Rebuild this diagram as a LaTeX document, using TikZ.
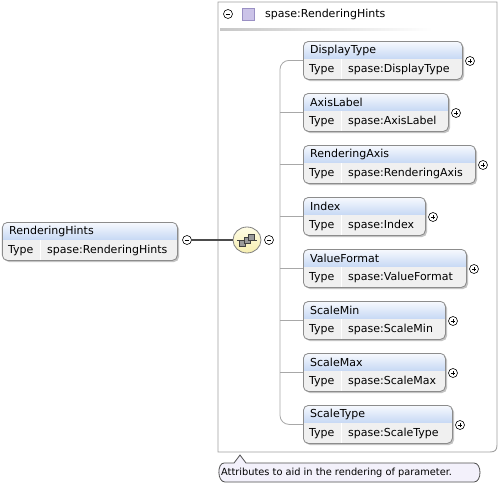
\documentclass[tikz,border=0pt]{standalone}
\usepackage{fontspec}
\setmainfont{DejaVu Sans}
\usetikzlibrary{shapes.geometric}
\definecolor{hdtop}{HTML}{F8FAFE}
\definecolor{hdbot}{HTML}{C6D8F4}
\definecolor{rowc}{HTML}{F0F0F0}
\definecolor{bordc}{HTML}{8C8C8C}
\definecolor{shadowc}{HTML}{C4C4C4}
\definecolor{txtc}{HTML}{000000}
\definecolor{trunkc}{HTML}{A8A8A8}
\definecolor{contc}{HTML}{A0A0A0}
\definecolor{seqtop}{HTML}{FFFDE6}
\definecolor{seqbot}{HTML}{F6EEB0}
\definecolor{seqbord}{HTML}{808080}
\definecolor{iconc}{HTML}{9A9A9A}
\definecolor{sqfill}{HTML}{CBC3E8}
\definecolor{sqbord}{HTML}{9A90C4}
\definecolor{tipfill}{HTML}{F3F1FB}
\definecolor{tipbord}{HTML}{505050}
\tikzset{
  elbox/.style={draw=bordc, rounded corners=5pt, inner sep=0pt, anchor=north west, line width=0.8pt},
  lbl/.style={font=\fontsize{11}{13}\selectfont, inner sep=0pt, anchor=west, text=txtc},
  pmcirc/.style={circle, draw=black, fill=white, minimum size=9pt, inner sep=0pt, line width=0.6pt},
  pluscirc/.style={pmcirc, path picture={\draw[line width=0.6pt]
      ([xshift=-2.3pt]path picture bounding box.center) -- ([xshift=2.3pt]path picture bounding box.center)
      ([yshift=-2.3pt]path picture bounding box.center) -- ([yshift=2.3pt]path picture bounding box.center);}},
  minuscirc/.style={pmcirc, path picture={\draw[line width=0.6pt]
      ([xshift=-2.3pt]path picture bounding box.center) -- ([xshift=2.3pt]path picture bounding box.center);}},
  conn/.style={draw=trunkc, line width=0.8pt},
  mainconn/.style={draw=black!70, line width=1.6pt},
}
\newcommand\elembox[6]{%
  \fill[shadowc, rounded corners=5pt] ({#4+2},{#5+2}) rectangle ({#6+2},{#5+40});
  \begin{scope}
    \clip[rounded corners=5pt] (#4,#5) rectangle (#6,{#5+38});
    \shade[top color=hdtop, bottom color=hdbot] (#4,#5) rectangle (#6,{#5+18});
    \fill[rowc] (#4,{#5+18}) rectangle (#6,{#5+38});
    \draw[white, line width=1pt] ({#4+38},{#5+18}) -- ({#4+38},{#5+38});
  \end{scope}
  \node[elbox, minimum width={#6-#4}, minimum height=38] (#1) at (#4,#5) {};
  \node[lbl] (#1-name) at ({#4+7},{#5+9.5}) {#2};
  \node[lbl] (#1-tk) at ({#4+6},{#5+28.5}) {Type};
  \node[lbl] (#1-tv) at ({#4+45},{#5+28.5}) {#3};
}
\begin{document}
\begin{tikzpicture}[x=1pt,y=-1pt]
\useasboundingbox[fill=white] (0,0) rectangle (499,485);
% container
\draw[contc, line width=0.9pt] (218,452) -- (218,2) -- (497,2) -- (497,445)
   .. controls (497,450) and (495,452) .. (490,452) -- cycle;
\node[minuscirc] (cmin) at (228,14) {};
\node[draw=sqbord, fill=sqfill, minimum size=12pt, inner sep=0pt] (csq) at (248,14) {};
\node[lbl] (ctitle) at (265,14.5) {spase:RenderingHints};
\shade[left color=black!22, right color=white] (220,28) rectangle (432,30);
% trunk
\coordinate (trunk) at (280,240);
% children
\elembox{c1}{DisplayType}{spase:DisplayType}{303}{41}{462}
\elembox{c2}{AxisLabel}{spase:AxisLabel}{303}{93}{448}
\elembox{c3}{RenderingAxis}{spase:RenderingAxis}{303}{145}{475}
\elembox{c4}{Index}{spase:Index}{303}{197}{425}
\elembox{c5}{ValueFormat}{spase:ValueFormat}{303}{249}{466}
\elembox{c6}{ScaleMin}{spase:ScaleMin}{303}{301}{445}
\elembox{c7}{ScaleMax}{spase:ScaleMax}{303}{353}{445}
\elembox{c8}{ScaleType}{spase:ScaleType}{303}{405}{452}
\draw[conn, rounded corners=9pt] (c1.west) -| (trunk) |- (c8.west);
\foreach \c in {c2,c3,c4,c5,c6,c7} { \draw[conn] (\c.west -| trunk) -- (\c.west); }
\foreach \c/\r/\t in {c1/462/41, c2/448/93, c3/475/145, c4/425/197, c5/466/249, c6/445/301, c7/445/353, c8/452/405} {
  \node[pluscirc] (\c-plus) at ({\r+8},{\t+20}) {};
}
% main element
\elembox{main}{RenderingHints}{spase:RenderingHints}{2}{222}{177}
\node[minuscirc] (mmin) at (187,240) {};
\node[ellipse, draw=seqbord, top color=seqtop, bottom color=seqbot, minimum width=28pt, minimum height=26pt, inner sep=0pt, line width=0.8pt] (seq) at (247,240) {};
\draw[mainconn] (mmin) -- (seq);
\node[minuscirc] (smin) at (269,240) {};
% sequence icon
\draw[black!75, line width=0.7pt] ([xshift=-10pt]seq.center) -- ([xshift=10pt]seq.center);
\foreach \dx/\dy in {-4.5/-3, 0/0, 4.5/3} {
  \draw[black!75, fill=iconc, line width=0.5pt] ([xshift={\dx*1pt-2.8pt}, yshift={\dy*1pt-2.8pt}]seq.center) rectangle +(5.6pt,5.6pt);
}
% tooltip
\draw[tipbord, fill=tipfill, line width=0.8pt] (224,463) -- (234,463) -- (240,455) -- (246,463) -- (474,463)
   .. controls (482,463) and (482,482) .. (474,482) -- (225,482)
   .. controls (217,482) and (217,463) .. (224,463) -- cycle;
\node[lbl, font=\fontsize{9.8}{11}\selectfont] (tip) at (221,472.5) {Attributes to aid in the rendering of parameter.};
\end{tikzpicture}
\end{document}
